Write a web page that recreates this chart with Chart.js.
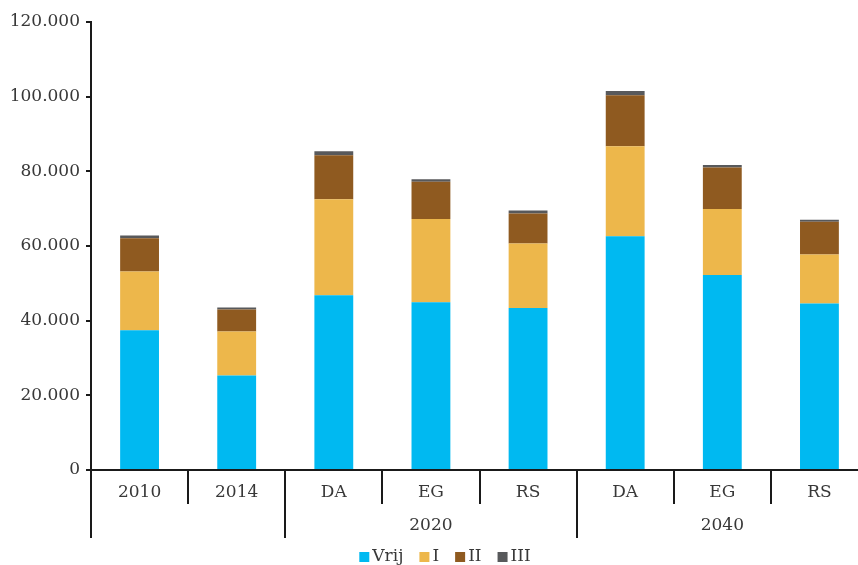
<!DOCTYPE html>
<html>
<head>
<meta charset="utf-8">
<script src="https://cdn.jsdelivr.net/npm/chart.js@4/dist/chart.umd.min.js"></script>
<style>
  html, body { margin: 0; padding: 0; background: #fff; overflow: hidden; }
  #wrap { width: 870px; height: 565px; }
</style>
</head>
<body>
<div id="wrap"><canvas id="grafica" width="870" height="565"></canvas></div>
<script>
/* global Chart */

// datos
const categorias = ['2010', '2014', 'DA', 'EG', 'RS', 'DA', 'EG', 'RS']
const grupos = ['', '2020', '2040']
const grupoSpans = [2, 3, 3]

const serieVrij = [37400, 25300, 46800, 44900, 43400, 62600, 52200, 44600]
const serieI = [15800, 11800, 25700, 22300, 17300, 24100, 17700, 13100]
const serieII = [8900, 5900, 11800, 10000, 8000, 13700, 11100, 8800]
const serieIII = [700, 500, 1100, 700, 800, 1100, 700, 500]

const yTicks = [0, 20000, 40000, 60000, 80000, 100000, 120000]

const FONT = '"DejaVu Serif", serif'
const FONT_SIZE = 17
const TEXT_COLOR = '#383838'
const AXIS_COLOR = '#1a1a1a'

function formatMiles (value) {
  return Number(value).toLocaleString('de-DE')
}

// eje x de dos niveles + leyenda
const ejeMultinivel = {
  id: 'ejeMultinivel',
  afterDraw (chart) {
    const { ctx, chartArea, scales } = chart
    const x = scales.x
    const base = chartArea.bottom

    const edges = []
    for (let i = 0; i <= categorias.length; i++) {
      if (i === 0) edges.push(chartArea.left)
      else if (i === categorias.length) edges.push(chartArea.right)
      else edges.push((x.getPixelForValue(i - 1) + x.getPixelForValue(i)) / 2)
    }

    const groupEdges = [0]
    grupoSpans.forEach(s => groupEdges.push(groupEdges[groupEdges.length - 1] + s))

    ctx.save()
    ctx.strokeStyle = AXIS_COLOR
    ctx.lineWidth = 2
    edges.forEach((ex, i) => {
      const largo = groupEdges.includes(i) ? 68 : 34
      ctx.beginPath()
      ctx.moveTo(Math.round(ex), base)
      ctx.lineTo(Math.round(ex), base + largo)
      ctx.stroke()
    })

    ctx.fillStyle = TEXT_COLOR
    ctx.font = `${FONT_SIZE}px ${FONT}`
    ctx.textAlign = 'center'
    ctx.textBaseline = 'middle'
    categorias.forEach((cat, i) => {
      ctx.fillText(cat, x.getPixelForValue(i), base + 23)
    })
    grupos.forEach((g, k) => {
      const cx = (edges[groupEdges[k]] + edges[groupEdges[k + 1]]) / 2
      ctx.fillText(g, cx, base + 56)
    })

    // leyenda
    const items = chart.data.datasets.map(d => ({ text: d.label, color: d.backgroundColor }))
    const boxSize = 10
    const gapBox = 3
    const gapItem = 16
    const anchos = items.map(it => boxSize + gapBox + ctx.measureText(it.text).width)
    const total = anchos.reduce((a, b) => a + b, 0) + gapItem * (items.length - 1)
    let lx = 445 - total / 2
    const ly = 557
    ctx.textAlign = 'left'
    items.forEach((it, i) => {
      ctx.fillStyle = it.color
      ctx.fillRect(lx, ly - boxSize / 2, boxSize, boxSize)
      ctx.fillStyle = TEXT_COLOR
      ctx.fillText(it.text, lx + boxSize + gapBox, ly)
      lx += anchos[i] + gapItem
    })
    ctx.restore()
  }
}

const ctx = document.getElementById('grafica').getContext('2d')

new Chart(ctx, {
  type: 'bar',
  data: {
    labels: categorias,
    datasets: [
      { label: 'Vrij', data: serieVrij, backgroundColor: '#00B9F1' },
      { label: 'I', data: serieI, backgroundColor: '#EDB74B' },
      { label: 'II', data: serieII, backgroundColor: '#8F5A20' },
      { label: 'III', data: serieIII, backgroundColor: '#58595B' }
    ]
  },
  options: {
    responsive: false,
    animation: false,
    layout: { padding: { top: 22, right: 2, left: 0, bottom: 0 } },
    datasets: {
      bar: { barPercentage: 0.4, categoryPercentage: 1.0 }
    },
    plugins: {
      legend: { display: false },
      tooltip: { enabled: false }
    },
    scales: {
      x: {
        stacked: true,
        grid: { display: false },
        ticks: { display: false },
        border: { display: true, color: AXIS_COLOR, width: 2 },
        afterFit (scale) { scale.height = 95 }
      },
      y: {
        stacked: true,
        min: 0,
        max: 120000,
        afterBuildTicks (scale) { scale.ticks = yTicks.map(v => ({ value: v })) },
        grid: { display: true, drawOnChartArea: false, drawTicks: true, tickLength: 5, color: AXIS_COLOR, lineWidth: 2 },
        border: { display: true, color: AXIS_COLOR, width: 2 },
        ticks: {
          padding: 6,
          color: TEXT_COLOR,
          font: { family: FONT, size: FONT_SIZE },
          callback: (v) => formatMiles(v)
        },
        afterFit (scale) { scale.width = 91 }
      }
    }
  },
  plugins: [ejeMultinivel]
})
</script>
</body>
</html>
